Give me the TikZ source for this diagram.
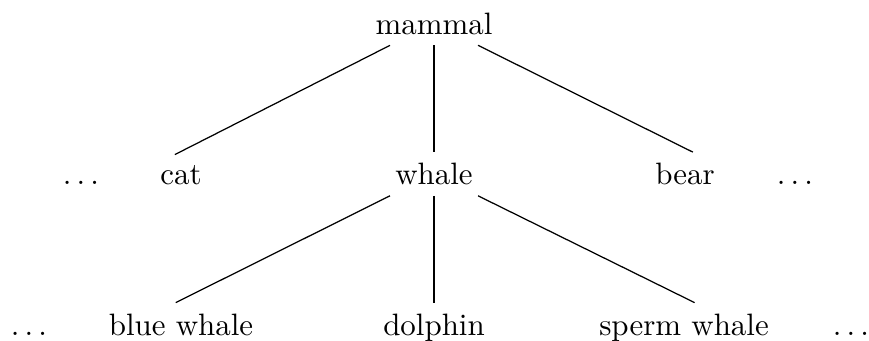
\documentclass[tikz,border=0pt]{standalone}
\usetikzlibrary{positioning}
\tikzset{
  animal/.style={anchor=base},
  more/.style={anchor=base},
  edge/.style={draw=black, line width=0.4pt},
}
\begin{document}
\begin{tikzpicture}
      \useasboundingbox (0,0) rectangle (9.875,3.864);
      % top of the tree
      \node[animal] (mammal) at (4.932,3.477) {mammal};
      % second level
      \node[more] (dl1) at (0.92,1.767) {$\ldots$};
      \node[animal] (cat) at (2.057,1.767) {cat};
      \node[animal] (whale) at (4.932,1.767) {whale};
      \node[animal] (bear) at (7.784,1.767) {bear};
      \node[more] (dr1) at (9.034,1.767) {$\ldots$};
      % third level
      \node[more] (dl2) at (0.33,0.057) {$\ldots$};
      \node[animal] (blue) at (2.057,0.057) {blue whale};
      \node[animal] (dolphin) at (4.932,0.057) {dolphin};
      \node[animal] (sperm) at (7.773,0.057) {sperm whale};
      \node[more] (dr2) at (9.67,0.057) {$\ldots$};
      \draw[edge] ([xshift=-5mm]mammal.south) -- ([xshift=-0.7mm]cat.north);
      \draw[edge] (mammal.south) -- (whale.north);
      \draw[edge] ([xshift=5mm]mammal.south) -- ([xshift=0.9mm]bear.north);
      \draw[edge] ([xshift=-5mm]whale.south) -- ([xshift=-0.6mm]blue.north);
      \draw[edge] (whale.south) -- (dolphin.north);
      \draw[edge] ([xshift=5mm]whale.south) -- ([xshift=1.2mm]sperm.north);
    \end{tikzpicture}
\end{document}
